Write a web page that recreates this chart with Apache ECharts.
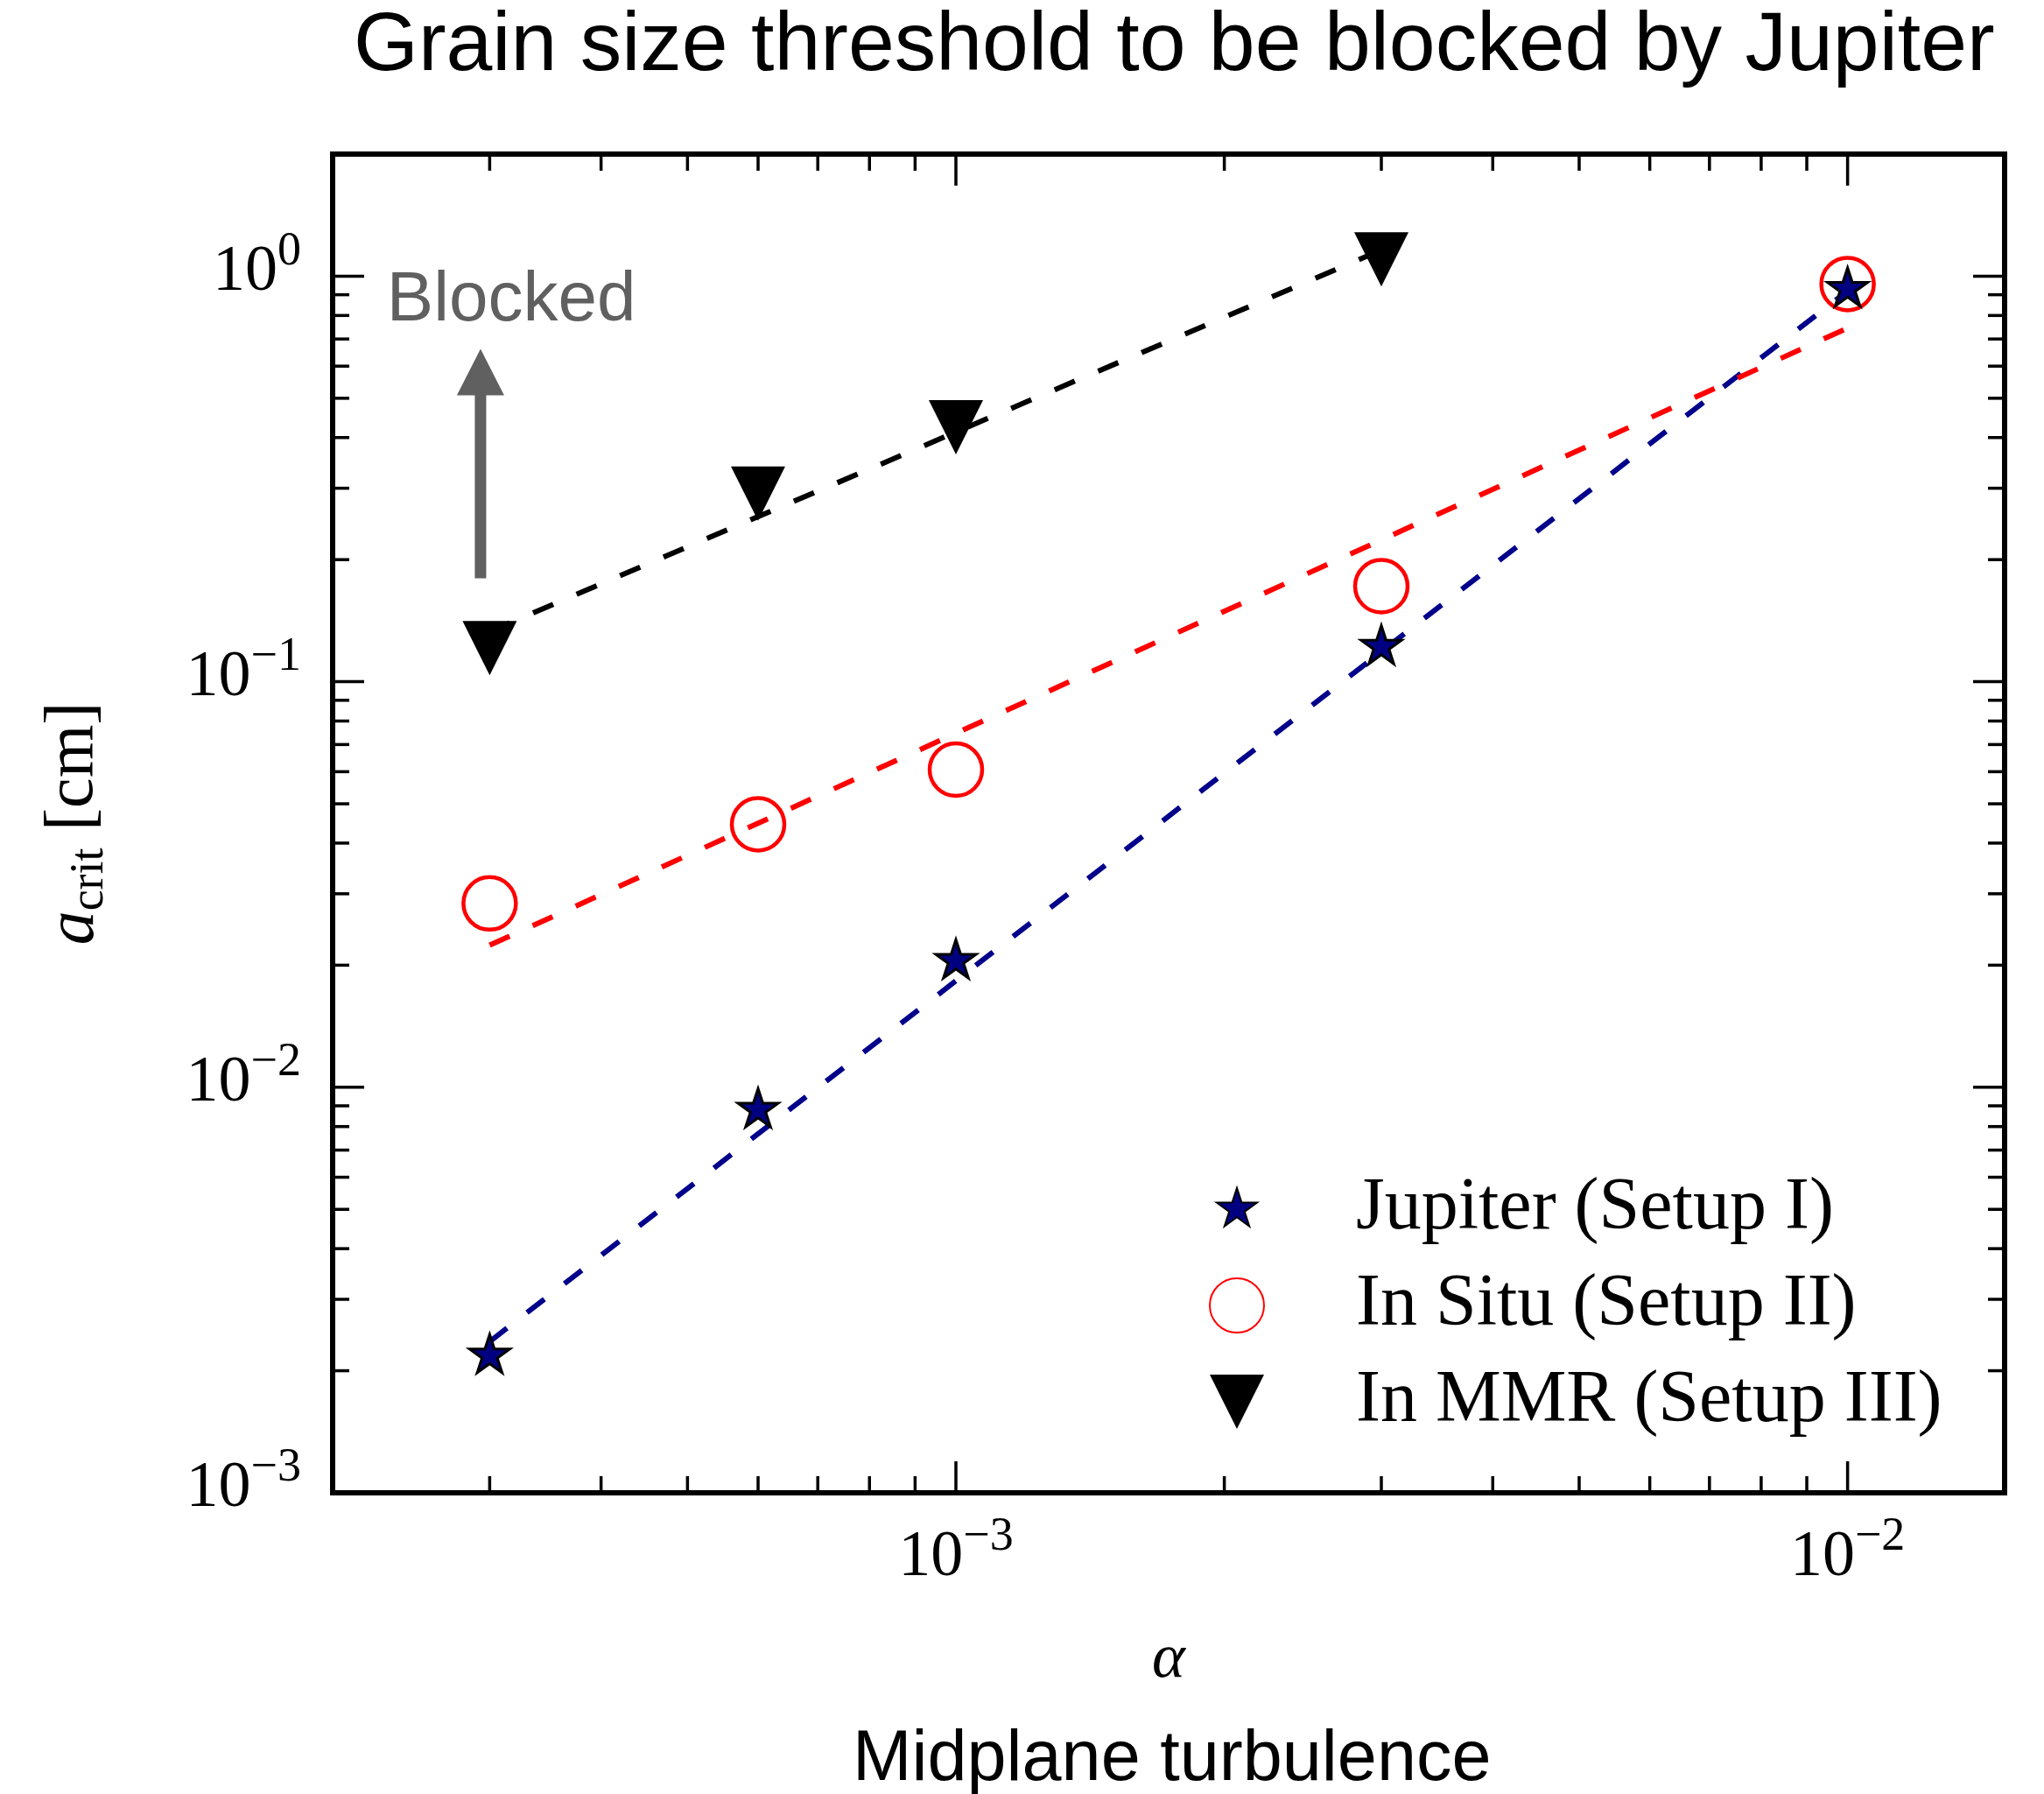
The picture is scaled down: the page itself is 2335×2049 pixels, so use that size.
<!DOCTYPE html>
<html>
<head>
<meta charset="utf-8">
<title>Grain size threshold to be blocked by Jupiter</title>
<script src="https://cdn.jsdelivr.net/npm/echarts@6/dist/echarts.min.js"></script>
<style>
  html, body { margin: 0; padding: 0; background: #fff; }
  #chart { width: 2335px; height: 2049px; }
</style>
</head>
<body>
<div id="chart"></div>
<script>
// Midplane turbulence alpha sampled in the simulations
const alphaValues = [3e-4, 6e-4, 1e-3, 3e-3, 1e-2];
const mmrAlphaValues = [3e-4, 6e-4, 1e-3, 3e-3];

// Critical grain size a_crit [cm] for each setup
const jupiterSetupI = [2.18e-3, 8.8e-3, 2.05e-2, 0.122, 0.93];
const inSituSetupII = [0.0284, 0.0445, 0.0607, 0.172, 0.956];
const inMmrSetupIII = [0.121, 0.291, 0.424, 1.1];

// Power-law fits, given by their end points
const jupiterFitAlpha = [3e-4, 1e-2];
const jupiterFit = [2.36e-3, 0.92];
const inSituFitAlpha = [3e-4, 1e-2];
const inSituFit = [0.0224, 0.745];
const inMmrFitAlpha = [3e-4, 3e-3];
const inMmrFit = [0.133, 1.16];

// Axis ranges
const alphaRange = [2e-4, 0.015];
const sizeRange = [1e-3, 2];

// Series names (legend order)
const seriesNames = ['Jupiter (Setup I)', 'In Situ (Setup II)', 'In MMR (Setup III)'];

// "Blocked" annotation, anchored in data space
const blockedLabel = { alpha: 2.3e-4, size: 0.87, text: 'Blocked' };
const blockedArrow = { alpha: 2.93e-4, from: 0.18, to: 0.662 };

const pairs = (xs, ys) => xs.map((x, i) => [x, ys[i]]);

// log-axis tick positions: 1..9 x 10^k inside the range
function logTicks(range) {
  const out = [];
  for (let k = -5; k <= 1; k++) {
    for (let m = 1; m <= 9; m++) {
      const v = m * Math.pow(10, k);
      if (v >= range[0] * 0.9999 && v <= range[1] * 1.0001) out.push([v, m === 1 ? 1 : 0]);
    }
  }
  return out;
}
const xTicks = logTicks(alphaRange).map(t => [t[0], 1, t[1]]);
const yTicks = logTicks(sizeRange).map(t => [1e-3, t[0], t[1]]);

const serif = 'Liberation Serif';
const sans = 'Liberation Sans';

// 5-point star, padded with move-to corners so it sits smaller inside its box
function starPath() {
  const pts = [];
  for (let i = 0; i < 10; i++) {
    const r = i % 2 === 0 ? 1 : 0.381966;
    const a = -Math.PI / 2 + i * Math.PI / 5;
    pts.push((r * Math.cos(a)).toFixed(4) + ',' + (r * Math.sin(a)).toFixed(4));
  }
  return 'path://M-1.28,-1.28 M1.28,1.28 M' + pts[0] + ' L' + pts.slice(1).join(' L') + ' Z';
}
// downward-pointing triangle
const triangleDown = 'path://M-1,-1 L1,-1 L0,1 Z';

function powerLabel(v) {
  const e = Math.log10(v);
  const r = Math.round(e);
  if (Math.abs(e - r) > 1e-6) return '';
  return '{b|10}{s|' + (r < 0 ? '\u2212' + (-r) : String(r)) + '}';
}

const MAJOR_LEN = 36, MINOR_LEN = 19, TICK_W = 3.5;
function tickRenderer(side) {
  return function (params, api) {
    const cs = params.coordSys;
    const len = api.value(2) ? MAJOR_LEN : MINOR_LEN;
    const p = api.coord([api.value(0), api.value(1)]);
    let segs;
    if (side === 'x') {
      const x = p[0];
      segs = [[x, cs.y + cs.height, x, cs.y + cs.height - len], [x, cs.y, x, cs.y + len]];
    } else {
      const y = p[1];
      segs = [[cs.x, y, cs.x + len, y], [cs.x + cs.width, y, cs.x + cs.width - len, y]];
    }
    return {
      type: 'group',
      children: segs.map(s => ({
        type: 'line',
        shape: { x1: s[0], y1: s[1], x2: s[2], y2: s[3] },
        style: { stroke: '#000', lineWidth: TICK_W }
      }))
    };
  };
}

const dash = [25, 29];
function fitLine(name, xs, ys, color) {
  return {
    name: name, type: 'line', data: pairs(xs, ys),
    showSymbol: false, symbol: 'none', silent: true, z: 2,
    lineStyle: { color: color, width: 6, type: dash, cap: 'butt' },
    emphasis: { disabled: true }
  };
}

const tickRich = (padBottom) => ({
  b: { fontFamily: serif, fontSize: 74, color: '#000', verticalAlign: 'bottom', padding: [14, 0, padBottom, 0] },
  s: { fontFamily: serif, fontSize: 54, color: '#000', verticalAlign: 'top' }
});

const chart = echarts.init(document.getElementById('chart'), null, { renderer: 'canvas' });

const option = {
  animation: false,
  backgroundColor: '#fff',
  title: [
    {
      text: 'Grain size threshold to be blocked by Jupiter',
      left: 404, top: 6, padding: 0,
      textStyle: { fontFamily: sans, fontSize: 95, fontWeight: 'normal', color: '#000' }
    },
    {
      text: 'Midplane turbulence',
      left: 974, top: 1970, padding: 0,
      textStyle: { fontFamily: sans, fontSize: 81, fontWeight: 'normal', color: '#000' }
    }
  ],
  grid: {
    left: 380, top: 176, right: 45, bottom: 344,
    show: true, borderColor: '#000', borderWidth: 6, backgroundColor: 'transparent',
    outerBoundsMode: 'none', containLabel: false
  },
  legend: {
    data: seriesNames,
    orient: 'vertical',
    // the visible icons start 100px inside their 262px-wide slots
    left: 1381, top: 1339, padding: 0,
    itemWidth: 262, itemHeight: 62, itemGap: 26,
    symbolKeepAspect: true,
    selectedMode: false,
    textStyle: { fontFamily: serif, fontSize: 84, color: '#000', lineHeight: 62 }
  },
  xAxis: {
    type: 'log', logBase: 10,
    min: alphaRange[0], max: alphaRange[1],
    name: '\u03b1', nameLocation: 'middle', nameGap: 155,
    nameTextStyle: { fontFamily: serif, fontStyle: 'italic', fontSize: 72, color: '#000' },
    axisLine: { show: false }, axisTick: { show: false }, splitLine: { show: false },
    axisLabel: { margin: 24, color: '#000', formatter: powerLabel, rich: tickRich(0) }
  },
  yAxis: {
    type: 'log', logBase: 10,
    min: sizeRange[0], max: sizeRange[1],
    name: '{a|a}{sub|crit}{u| [cm]}', nameLocation: 'middle', nameGap: 250,
    nameTextStyle: {
      color: '#000',
      rich: {
        a: { fontFamily: serif, fontStyle: 'italic', fontSize: 78, color: '#000', verticalAlign: 'top' },
        sub: { fontFamily: serif, fontSize: 54, color: '#000', verticalAlign: 'top', padding: [30, 0, 0, 0] },
        u: { fontFamily: serif, fontSize: 78, color: '#000', verticalAlign: 'top' }
      }
    },
    axisLine: { show: false }, axisTick: { show: false }, splitLine: { show: false },
    axisLabel: { margin: 36, color: '#000', formatter: powerLabel, rich: tickRich(22) }
  },
  series: [
    fitLine('Jupiter fit', jupiterFitAlpha, jupiterFit, '#00008B'),
    fitLine('In Situ fit', inSituFitAlpha, inSituFit, '#FF0000'),
    fitLine('In MMR fit', inMmrFitAlpha, inMmrFit, '#000000'),
    {
      name: seriesNames[1], type: 'scatter', data: pairs(alphaValues, inSituSetupII),
      symbol: 'circle', symbolSize: 60, z: 3,
      itemStyle: { color: 'rgba(255,0,0,0)', borderColor: '#FF0000', borderWidth: 4.5, opacity: 1 },
      emphasis: { disabled: true }
    },
    {
      name: seriesNames[0], type: 'scatter', data: pairs(alphaValues, jupiterSetupI),
      symbol: starPath(), symbolSize: 62, z: 4,
      itemStyle: { color: '#000080', borderColor: '#000', borderWidth: 3, opacity: 1 },
      emphasis: { disabled: true }
    },
    {
      name: seriesNames[2], type: 'scatter', data: pairs(mmrAlphaValues, inMmrSetupIII),
      symbol: triangleDown, symbolSize: 62, z: 3,
      itemStyle: { color: '#000', opacity: 1 },
      emphasis: { disabled: true }
    },
    {
      name: 'alpha ticks', type: 'custom', data: xTicks, silent: true, clip: false, z: 5,
      encode: { x: 0, y: 1 }, renderItem: tickRenderer('x')
    },
    {
      name: 'size ticks', type: 'custom', data: yTicks, silent: true, clip: false, z: 5,
      encode: { x: 0, y: 1 }, renderItem: tickRenderer('y')
    }
  ]
};

chart.setOption(option);

// "Blocked" note and upward arrow, placed from data coordinates
const toPx = p => chart.convertToPixel({ gridIndex: 0 }, p);
const labelPt = toPx([blockedLabel.alpha, blockedLabel.size]);
const tail = toPx([blockedArrow.alpha, blockedArrow.from]);
const tip = toPx([blockedArrow.alpha, blockedArrow.to]);
const HEAD_H = 53, HEAD_HALF = 27, SHAFT_HALF = 6.5;
const cx = tail[0];
const headBase = tip[1] + HEAD_H;
const grey = '#606060';

chart.setOption({
  graphic: [
    {
      type: 'text', z: 10, silent: true,
      style: {
        x: labelPt[0], y: labelPt[1], text: blockedLabel.text,
        font: '80px "Liberation Sans"', fill: grey,
        align: 'left', verticalAlign: 'middle'
      }
    },
    {
      type: 'polygon', z: 10, silent: true,
      shape: {
        points: [
          [cx - SHAFT_HALF, tail[1]], [cx - SHAFT_HALF, headBase], [cx - HEAD_HALF, headBase],
          [cx, tip[1]],
          [cx + HEAD_HALF, headBase], [cx + SHAFT_HALF, headBase], [cx + SHAFT_HALF, tail[1]]
        ]
      },
      style: { fill: grey }
    }
  ]
});
</script>
</body>
</html>
